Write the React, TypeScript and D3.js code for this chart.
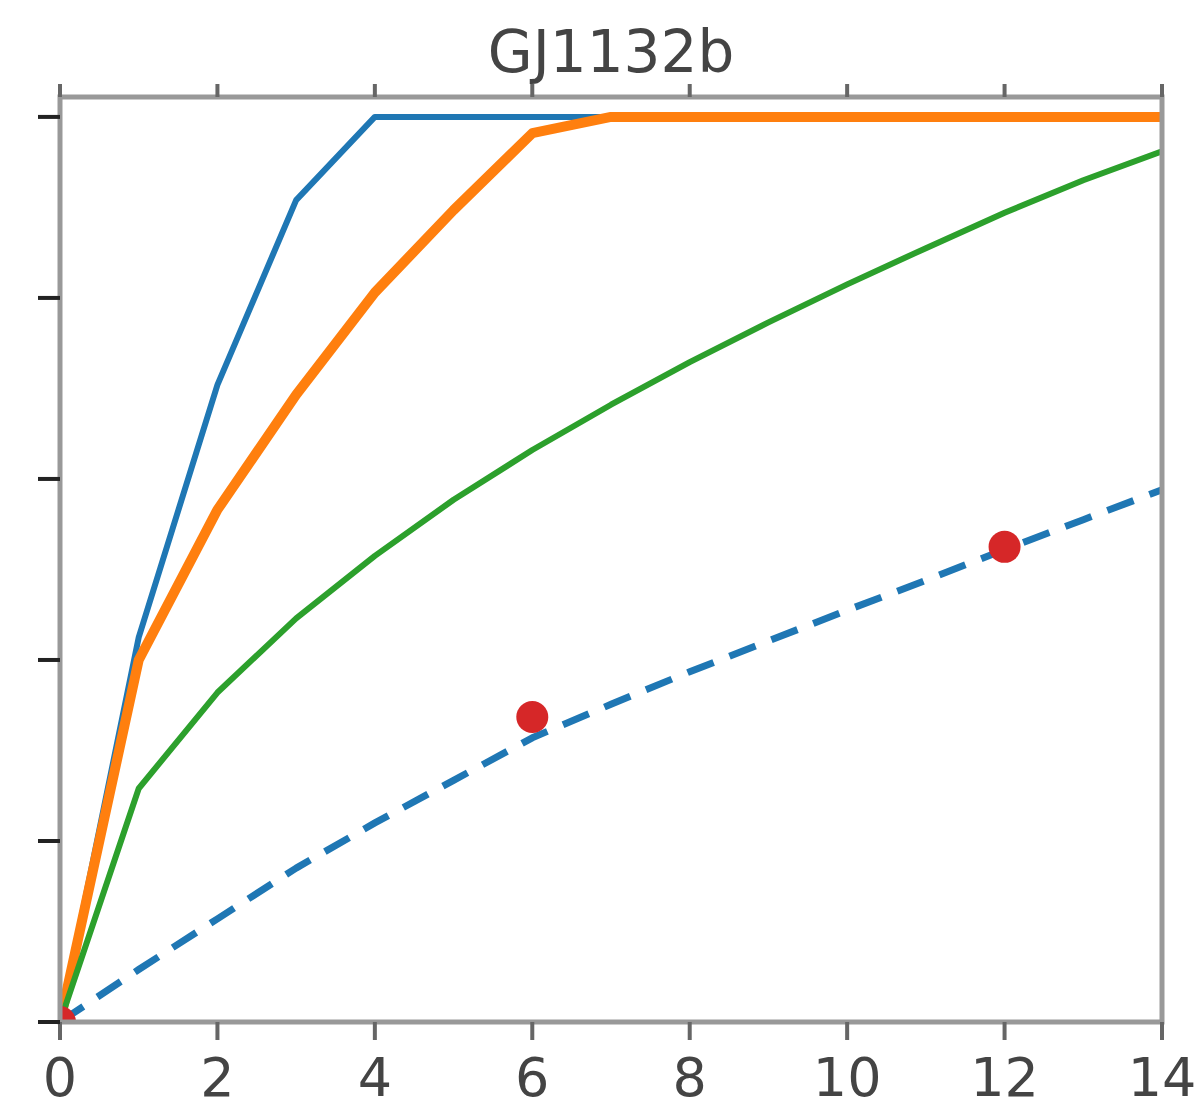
import React, { useRef, useEffect } from "react";
import * as d3 from "d3";

// x positions shared by all curves
const steps = [0, 1, 2, 3, 4, 5, 6, 7, 8, 9, 10, 11, 12, 13, 14];

// solid curves
const blueValues = [0, 0.425, 0.704, 0.908, 1, 1, 1, 1, 1, 1, 1, 1, 1, 1, 1];
const orangeValues = [0, 0.4, 0.566, 0.693, 0.806, 0.897, 0.982, 1, 1, 1, 1, 1, 1, 1, 1];
const greenValues = [0, 0.258, 0.364, 0.446, 0.515, 0.577, 0.632, 0.682, 0.729, 0.773, 0.815, 0.855, 0.894, 0.93, 0.962];

// dashed model curve
const dashedValues = [0, 0.058, 0.114, 0.17, 0.22, 0.267, 0.314, 0.351, 0.387, 0.421, 0.455, 0.488, 0.522, 0.555, 0.588];

// observed points
const obsX = [0, 6, 12];
const obsY = [0, 0.337, 0.525];

const xTicks = [0, 2, 4, 6, 8, 10, 12, 14];
const yTicks = [0, 0.2, 0.4, 0.6, 0.8, 1.0];

const App = () => {
  const svgRef = useRef<SVGSVGElement>(null);

  useEffect(() => {
    const width = 1204;
    const height = 1109;
    const margin = { top: 97, right: 42, bottom: 87, left: 60 };

    const x = d3
      .scaleLinear()
      .domain([0, 14])
      .range([margin.left, width - margin.right]);

    const y = d3
      .scaleLinear()
      .domain([0, 1.022])
      .range([height - margin.bottom, margin.top]);

    const svg = d3.select(svgRef.current);
    svg.selectAll("*").remove();
    svg.attr("width", width).attr("height", height);

    svg
      .append("rect")
      .attr("width", width)
      .attr("height", height)
      .attr("fill", "#fff");

    svg
      .append("clipPath")
      .attr("id", "plot-clip")
      .append("rect")
      .attr("x", margin.left)
      .attr("y", margin.top)
      .attr("width", width - margin.left - margin.right)
      .attr("height", height - margin.top - margin.bottom);

    const plot = svg.append("g").attr("clip-path", "url(#plot-clip)");

    const line = d3
      .line<number>()
      .x((_, i) => x(steps[i]))
      .y((d) => y(d));

    const series = [
      { values: blueValues, color: "#1f77b4", w: 6, dash: null },
      { values: orangeValues, color: "#ff7f0e", w: 10, dash: null },
      { values: greenValues, color: "#2ca02c", w: 6, dash: null },
      { values: dashedValues, color: "#1f77b4", w: 7, dash: "28,17" },
    ];

    series.forEach((s) => {
      plot
        .append("path")
        .datum(s.values)
        .attr("fill", "none")
        .attr("stroke", s.color)
        .attr("stroke-width", s.w)
        .attr("stroke-linejoin", "round")
        .attr("stroke-dasharray", s.dash)
        .attr("d", line);
    });

    plot
      .selectAll(".obs")
      .data(obsX)
      .enter()
      .append("circle")
      .attr("cx", (d) => x(d))
      .attr("cy", (_, i) => y(obsY[i]))
      .attr("r", 16)
      .attr("fill", "#d62728");

    // spines
    const x0 = margin.left;
    const x1 = width - margin.right;
    const y0 = height - margin.bottom;
    const y1 = margin.top;
    svg
      .append("rect")
      .attr("x", x0)
      .attr("y", y1)
      .attr("width", x1 - x0)
      .attr("height", y0 - y1)
      .attr("fill", "none")
      .attr("stroke", "#999")
      .attr("stroke-width", 5);

    // bottom ticks + labels
    svg
      .append("g")
      .selectAll("line")
      .data(xTicks)
      .enter()
      .append("line")
      .attr("x1", (d) => x(d))
      .attr("x2", (d) => x(d))
      .attr("y1", y0)
      .attr("y2", y0 + 18)
      .attr("stroke", "#666")
      .attr("stroke-width", 4);

    // top ticks
    svg
      .append("g")
      .selectAll("line")
      .data(xTicks)
      .enter()
      .append("line")
      .attr("x1", (d) => x(d))
      .attr("x2", (d) => x(d))
      .attr("y1", y1)
      .attr("y2", y1 - 13)
      .attr("stroke", "#666")
      .attr("stroke-width", 4);

    // left ticks
    svg
      .append("g")
      .selectAll("line")
      .data(yTicks)
      .enter()
      .append("line")
      .attr("x1", x0 - 22)
      .attr("x2", x0)
      .attr("y1", (d) => y(d))
      .attr("y2", (d) => y(d))
      .attr("stroke", "#222")
      .attr("stroke-width", 4);

    svg
      .append("g")
      .selectAll("text")
      .data(xTicks)
      .enter()
      .append("text")
      .attr("x", (d) => x(d))
      .attr("y", 1096)
      .attr("text-anchor", "middle")
      .attr("font-family", "DejaVu Sans")
      .attr("font-size", 54)
      .attr("fill", "#444")
      .text((d) => d);

    svg
      .append("text")
      .attr("x", (x0 + x1) / 2)
      .attr("y", 72)
      .attr("text-anchor", "middle")
      .attr("font-family", "DejaVu Sans")
      .attr("font-size", 58)
      .attr("fill", "#444")
      .text("GJ1132b");
  }, []);

  return <svg ref={svgRef} style={{ position: "absolute", left: 0, top: 0 }}></svg>;
};

export default App;
